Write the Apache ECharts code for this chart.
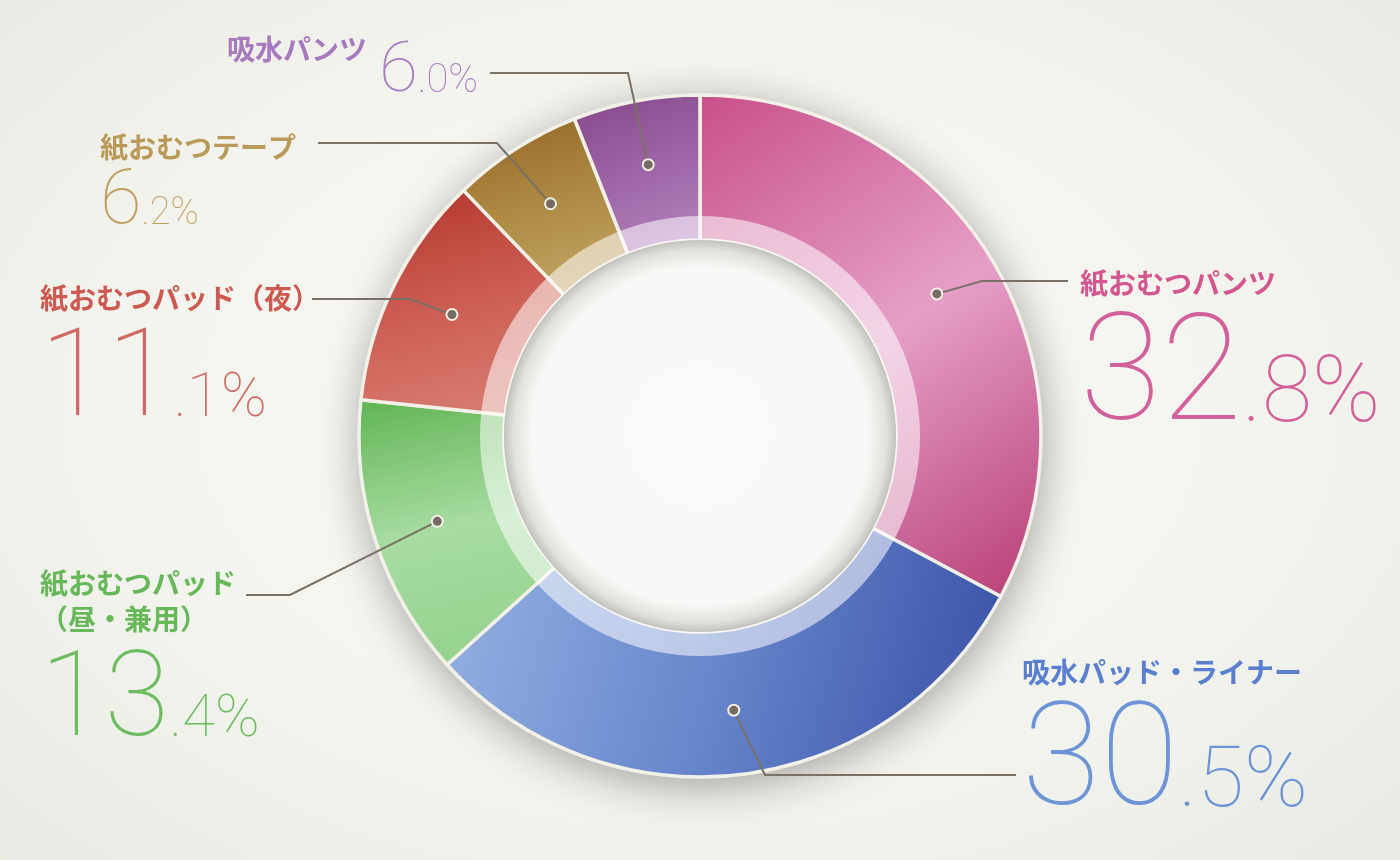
<!DOCTYPE html>
<html>
<head>
<meta charset="utf-8">
<title>紙おむつ 構成比</title>
<script src="https://cdn.jsdelivr.net/npm/echarts@6.0.0/dist/echarts.min.js"></script>
<style>
  html, body { margin: 0; padding: 0; }
  body { background: radial-gradient(ellipse 80% 85% at 50% 48%, #fafaf7 0%, #f3f3ee 55%, #e6e6df 100%); }
  #main { width: 1400px; height: 860px; }
</style>
</head>
<body>
<div id="main"></div>
<script>
// 区分ごとの構成比（%）
const categories = ['紙おむつパンツ', '吸水パッド・ライナー', '紙おむつパッド（昼・兼用）', '紙おむつパッド（夜）', '紙おむつテープ', '吸水パンツ'];
const shares = [32.8, 30.5, 13.4, 11.1, 6.2, 6.0];

const chart = echarts.init(document.getElementById('main'), null, { renderer: 'canvas' });

const CENTER = [700, 436];
const R_OUT = 341;
const R_IN = 196;
const R_BAND = 220;
const DOT_R = 0.81; // 点の位置（外径に対する比）
const JP = '"Noto Sans CJK JP", sans-serif';
const NUM = 'Roboto, "Open Sans", sans-serif';

// 扇形のグラデーション [x1, y1, x2, y2, 色]
const sliceFills = [
  [0, 0, 1, 1, ['#c84f88', '#e59fc7', '#b73c74']],
  [0, 0.2, 1, 0.8, ['#94b1e2', '#6685cb', '#3850a6']],
  [0.2, 0, 0.5, 1, ['#64b657', '#a7dca1', '#94d28d']],
  [0.3, 0, 0.6, 1, ['#b5382f', '#cc5d52', '#d97d72']],
  [0.3, 0, 0.6, 1, ['#976a28', '#ae8a44', '#c2a564']],
  [0.2, 0, 0.7, 1, ['#874a8c', '#9d64a6', '#b482bd']]
];
const nameColors = ['#d4568f', '#5a7fcf', '#67b858', '#cd5a50', '#b99a58', '#a67abd'];
const numColors = ['#d2609a', '#6c94d6', '#6dbd60', '#cf6b62', '#c0a062', '#a77ec0'];

// ラベルの置き場所と引き出し線
const labelSpots = [
  { x: 1080, y: 269, bendX: 982, lineY: 281, endX: 1068 },
  { x: 1022, y: 658, bendX: 765, lineY: 775, endX: 1016 },
  { x: 40, y: 569, bendX: 290, lineY: 595, endX: 246, wrap: true },
  { x: 40, y: 284, bendX: 410, lineY: 299, endX: 312 },
  { x: 100, y: 133, bendX: 497, lineY: 143, endX: 318 },
  { x: 227, y: 35, bendX: 628, lineY: 73, endX: 490, inline: true }
];
// 数字の大きさと行の高さ
const numSizes = [
  { big: 148, small: 92, lh: 151 },
  { big: 143, small: 86, lh: 146 },
  { big: 118, small: 60, lh: 123 },
  { big: 122, small: 62, lh: 125 },
  { big: 76, small: 38, lh: 73 },
  { big: 71, small: 40, lh: 74 }
];
const BASE_DROP = 0.22; // 下揃え時のベースライン位置

const rich = {};
numSizes.forEach(function (s, i) {
  rich['n' + i] = {
    fontFamily: JP, fontWeight: 'bold', fontSize: 28, lineHeight: 36,
    color: nameColors[i], verticalAlign: 'top', padding: labelSpots[i].inline ? [0, 12, 0, 0] : 0
  };
  rich['b' + i] = {
    fontFamily: NUM, fontWeight: 100, fontSize: s.big, lineHeight: s.lh,
    color: numColors[i], verticalAlign: 'bottom'
  };
  rich['s' + i] = {
    fontFamily: NUM, fontWeight: 100, fontSize: s.small,
    padding: [0, 0, BASE_DROP * (s.big - s.small), 0],
    color: numColors[i], verticalAlign: 'bottom'
  };
});

function labelText(p) {
  const i = p.dataIndex;
  const parts = p.value.toFixed(1).split('.');
  const num = '{b' + i + '|' + parts[0] + '}{s' + i + '|.' + parts[1] + '%}';
  const spot = labelSpots[i];
  let name = p.name;
  if (spot.wrap) {
    const k = name.indexOf('（');
    name = name.slice(0, k) + '}\n{n' + i + '|' + name.slice(k);
  }
  const head = '{n' + i + '|' + name + '}';
  return spot.inline ? head + num : head + '\n' + num;
}

// 点は各区分の中央角
const mids = [];
let total = 0;
shares.forEach(function (v) { mids.push(total + v / 2); total += v; });

function ringLabelLayout(p) {
  const spot = labelSpots[p.dataIndex];
  return { x: spot.x, y: spot.y, align: 'left', verticalAlign: 'top' };
}

// 引き出し線と点
function renderLeader(params, api) {
  const i = api.value(2);
  const p = api.coord([api.value(0), api.value(1)]);
  const s = labelSpots[i];
  return {
    type: 'group',
    children: [
      {
        type: 'polyline',
        shape: { points: [p, [s.bendX, s.lineY], [s.endX, s.lineY]] },
        style: { stroke: '#7a7166', lineWidth: 2, fill: null }
      },
      {
        type: 'circle',
        shape: { cx: p[0], cy: p[1], r: 5.5 },
        style: { fill: '#756c63', stroke: '#f2efe6', lineWidth: 2 }
      }
    ]
  };
}

const option = {
  backgroundColor: 'transparent',
  animation: false,
  polar: { center: CENTER, radius: R_OUT },
  angleAxis: { type: 'value', min: 0, max: total, startAngle: 90, clockwise: true, show: false },
  radiusAxis: { type: 'value', min: 0, max: 1, show: false },
  series: [
    {
      // 影
      type: 'pie', z: 1, silent: true, center: CENTER, radius: [R_IN, R_OUT],
      label: { show: false }, labelLine: { show: false },
      itemStyle: {
        color: '#f0efe8', shadowBlur: 45, shadowColor: 'rgba(0,0,0,0.36)',
        shadowOffsetX: 2, shadowOffsetY: 8
      },
      data: [{ value: 1 }]
    },
    {
      type: 'pie', z: 2, silent: true, center: CENTER, radius: [R_IN, R_OUT],
      startAngle: 90, clockwise: true, avoidLabelOverlap: false,
      itemStyle: { borderColor: '#f2f0e7', borderWidth: 3.5 },
      label: { show: true, position: 'outside', formatter: labelText, rich: rich },
      labelLine: { show: false },
      labelLayout: ringLabelLayout,
      data: categories.map(function (name, i) {
        const f = sliceFills[i];
        return {
          name: name,
          value: shares[i],
          itemStyle: {
            color: new echarts.graphic.LinearGradient(f[0], f[1], f[2], f[3], [
              { offset: 0, color: f[4][0] },
              { offset: 0.5, color: f[4][1] },
              { offset: 1, color: f[4][2] }
            ])
          }
        };
      })
    },
    {
      // 内側の明るい帯
      type: 'pie', z: 3, silent: true, center: CENTER, radius: [R_IN, R_BAND],
      label: { show: false }, labelLine: { show: false },
      itemStyle: { color: 'rgba(255,255,255,0.55)' },
      data: [{ value: 1 }]
    },
    {
      // 中央の穴
      type: 'pie', z: 3, silent: true, center: CENTER, radius: [0, R_IN],
      label: { show: false }, labelLine: { show: false },
      itemStyle: {
        color: new echarts.graphic.RadialGradient(0.5, 0.5, 0.5, [
          { offset: 0, color: '#f9f9f7' },
          { offset: 0.86, color: '#f7f7f5' },
          { offset: 0.95, color: '#e1e1dd' },
          { offset: 1, color: '#c2c2bd' }
        ])
      },
      data: [{ value: 1 }]
    },
    {
      type: 'custom', coordinateSystem: 'polar', z: 5, silent: true,
      renderItem: renderLeader,
      data: mids.map(function (m, i) { return [DOT_R, m, i]; })
    }
  ]
};

chart.setOption(option);
</script>
</body>
</html>
